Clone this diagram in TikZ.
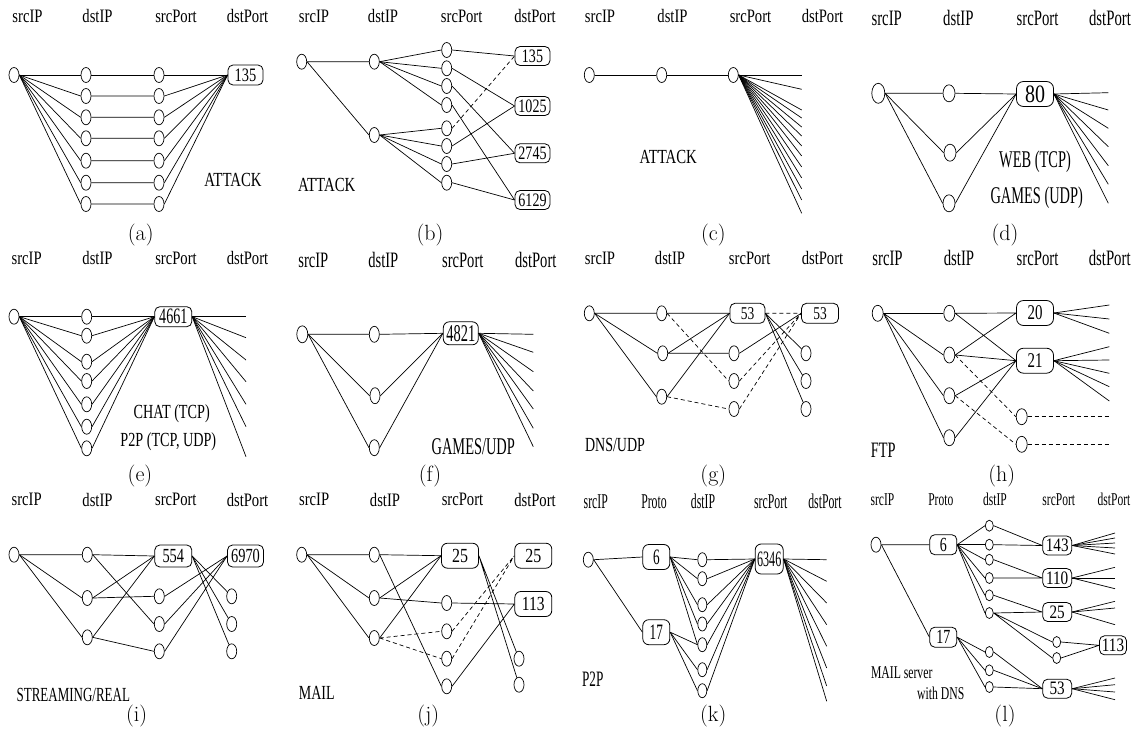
\documentclass[tikz,border=0pt]{standalone}
\usepackage{fontspec}
\usepackage{graphicx}
\newfontfamily\tms{Liberation Serif}
\usetikzlibrary{shapes.geometric}
\newcommand\T[3][0.75]{{\tms\fontsize{#2}{#2}\selectfont\scalebox{#1}[1]{#3}}}
\newcommand\hdr[8]{%
 \node[lab] (#1h1) at (#5,#2) {\T[#4]{#3}{srcIP}};
 \node[lab] (#1h2) at (#6,#2) {\T[#4]{#3}{dstIP}};
 \node[lab] (#1h3) at (#7,#2) {\T[#4]{#3}{srcPort}};
 \node[lab] (#1h4) at (#8,#2) {\T[#4]{#3}{dstPort}};}
\tikzset{
 el/.style={draw, ellipse, minimum width=10pt, minimum height=15pt, inner sep=0pt, line width=0.7pt},
 bx/.style={draw, rounded corners=5pt, minimum width=36pt, minimum height=21pt, inner sep=0pt, line width=0.8pt},
 ln/.style={line width=0.7pt},
 dl/.style={line width=0.7pt, dash pattern=on 4pt off 3pt},
 lab/.style={inner sep=0pt},
 capt/.style={inner sep=0pt, font=\fontsize{22}{22}\selectfont},
}
\begin{document}
\begin{tikzpicture}[x=1pt,y=-1pt]
\useasboundingbox (0,0) rectangle (1135,734);
% ---------------- (a)
\hdr{a}{16}{19}{0.77}{27.5}{97.5}{176}{247.5}
\node[el] (a0) at (14,75) {};
\node[bx, minimum width=35pt, minimum height=20pt] (aB) at (245.5,75) {\T[0.76]{19}{135}};
\foreach \i/\y in {1/75,2/96,3/117.3,4/138.3,5/160.7,6/182.7,7/204}{
  \node[el] (ad\i) at (86,\y) {};
  \node[el] (as\i) at (159,\y) {};
  \draw[ln] (a0.east) -- (ad\i.west) (ad\i.east) -- (as\i.west) (as\i.east) -- (aB.west);
}
\node[lab] (aT) at (233,180) {\T[0.74]{20}{ATTACK}};
\node[capt] (aC) at (140.7,235) {(a)};
% ---------------- (b)
\hdr{b}{16}{19}{0.77}{314}{383}{461.7}{535}
\node[el] (b0) at (301.7,61.7) {};
\node[el] (bd1) at (374.3,61.7) {};
\node[el] (bd2) at (374.3,135) {};
\foreach \i/\y in {1/50,2/68.3,3/86,4/105,5/128.3,6/146,7/164,8/182.7} \node[el] (bs\i) at (446.7,\y) {};
\node[bx, minimum width=35pt, minimum height=19pt] (bB1) at (532.5,56) {\T[0.74]{19}{135}};
\node[bx, minimum width=35pt, minimum height=19pt] (bB2) at (532.5,106) {\T[0.74]{19}{1025}};
\node[bx, minimum width=35pt, minimum height=19pt] (bB3) at (532.5,153.3) {\T[0.74]{19}{2745}};
\node[bx, minimum width=35pt, minimum height=19pt] (bB4) at (532.5,200) {\T[0.74]{19}{6129}};
\draw[ln] (b0.east) -- (bd1.west) (b0.east) -- (bd2.west);
\foreach \i in {1,...,4} \draw[ln] (bd1.east) -- (bs\i.west);
\foreach \i in {5,...,8} \draw[ln] (bd2.east) -- (bs\i.west);
\draw[ln] (bs1.east) -- (bB1.west) (bs2.east) -- (bB2.west) (bs3.east) -- (bB3.west) (bs4.east) -- (bB4.west)
          (bs6.east) -- (bB2.west) (bs7.east) -- (bB3.west) (bs8.east) -- (bB4.west);
\draw[dl] (bs5.east) -- (bB1.west);
\node[lab] (bT) at (326.7,185) {\T[0.74]{20}{ATTACK}};
\node[capt] (bC) at (430,235) {(b)};
% ---------------- (c)
\hdr{c}{16}{19}{0.77}{600}{672.5}{750.5}{822.5}
\node[el] (c0) at (589.3,75) {};
\node[el] (cd) at (661.7,75) {};
\node[el] (cs) at (733.3,75) {};
\draw[ln] (c0.east) -- (cd.west) (cd.east) -- (cs.west);
\foreach \k/\y in {1/75,2/89.3,3/110,4/118,5/127,6/136,7/146,8/156,9/167,10/178,11/189,12/200,13/213.3}{
  \coordinate (ce\k) at (801.7,\y); \draw[ln] (cs.east) -- (ce\k);}
\node[lab] (cT) at (668.3,156.7) {\T[0.74]{20}{ATTACK}};
\node[capt] (cC) at (713.3,235) {(c)};
% ---------------- (d)
\hdr{d}{18}{22}{0.67}{886.7}{958.3}{1037.5}{1110}
\node[el, minimum width=13pt, minimum height=20pt] (d0) at (878.3,93.3) {};
\node[el, minimum width=12pt, minimum height=17pt] (dd1) at (949,93.3) {};
\node[el, minimum width=12pt, minimum height=17pt] (dd2) at (950,152.7) {};
\node[el, minimum width=12pt, minimum height=17pt] (dd3) at (949,203.3) {};
\node[bx, minimum width=37pt, minimum height=25pt, rounded corners=7pt] (dB) at (1035,94) {\T[0.8]{25}{80}};
\foreach \i in {1,2,3} \draw[ln] (d0.east) -- (dd\i.west) (dd\i.east) -- (dB.west);
\foreach \k/\y in {1/92.7,2/110,3/128.3,4/146.7,5/165.7,6/184.3,7/203.3}{
  \coordinate (de\k) at (1108.3,\y); \draw[ln] (dB.east) -- (de\k);}
\node[lab] (dT1) at (1035,161.7) {\T[0.6]{24}{WEB (TCP)}};
\node[lab] (dT2) at (1036.7,197.3) {\T[0.6]{24}{GAMES (UDP)}};
\node[capt] (dC) at (1005,235) {(d)};
% ---------------- (e)
\hdr{e}{258.3}{19}{0.77}{26.7}{97.5}{176}{247.5}
\node[el] (e0) at (14,316.7) {};
\node[bx, minimum width=37pt, minimum height=20pt] (eB) at (173.3,316.7) {\T[0.64]{22}{4661}};
\foreach \i/\y in {1/316.7,2/335.7,3/361.7,4/381,5/404.3,6/426.7,7/448.3}{
  \node[el] (ed\i) at (86.7,\y) {};
  \draw[ln] (e0.east) -- (ed\i.west) (ed\i.east) -- (eB.west);}
\foreach \k/\y in {1/316.7,2/337.7,3/360,4/381.7,5/404.3,6/426.7,7/456.7}{
  \coordinate (ee\k) at (246,\y); \draw[ln] (eB.east) -- (ee\k);}
\node[lab] (eT1) at (171.7,413.3) {\T[0.71]{20}{CHAT (TCP)}};
\node[lab] (eT2) at (168.3,441.7) {\T[0.71]{20}{P2P (TCP, UDP)}};
\node[capt] (eC) at (140,476) {(e)};
% ---------------- (f)
\hdr{f}{260}{22}{0.66}{313.3}{383.3}{462.8}{535.8}
\node[el, minimum width=11pt, minimum height=17pt] (f0) at (302.3,334.3) {};
\node[el, minimum width=10pt, minimum height=16pt] (fd1) at (374.3,334.3) {};
\node[el, minimum width=10pt, minimum height=16pt] (fd2) at (375,395.7) {};
\node[el, minimum width=10pt, minimum height=16pt] (fd3) at (374.3,447.7) {};
\node[bx, minimum width=35pt, minimum height=23pt, rounded corners=6pt] (fB) at (460.8,333.3) {\T[0.6]{24}{4821}};
\foreach \i in {1,2,3} \draw[ln] (f0.east) -- (fd\i.west) (fd\i.east) -- (fB.west);
\foreach \k/\y in {1/334.3,2/352.3,3/371.7,4/391,5/409,6/428.3,7/446.7}{
  \coordinate (fe\k) at (533.3,\y); \draw[ln] (fB.east) -- (fe\k);}
\node[lab] (fT) at (473.3,446.7) {\T[0.6]{24}{GAMES/UDP}};
\node[capt] (fC) at (430,476) {(f)};
% ---------------- (g)
\hdr{g}{258.3}{19}{0.77}{600}{670}{749.7}{822.5}
\node[el] (g0) at (589.3,313.3) {};
\node[el] (gd1) at (661.7,313.3) {};
\node[el] (gd2) at (662.7,353.3) {};
\node[el] (gd3) at (661.7,396.7) {};
\node[bx, minimum width=35pt, minimum height=20pt] (gB1) at (747.5,313.3) {\T[0.75]{18}{53}};
\node[bx, minimum width=37pt, minimum height=20pt] (gB2) at (820,313.3) {\T[0.75]{18}{53}};
\node[el] (gs1) at (734,353.3) {};
\node[el] (gs2) at (734,381) {};
\node[el] (gs3) at (734,409) {};
\node[el] (gt1) at (806,353.3) {};
\node[el] (gt2) at (806,381) {};
\node[el] (gt3) at (806,409) {};
\foreach \i in {1,2,3} \draw[ln] (g0.east) -- (gd\i.west) (gd\i.east) -- (gB1.west) (gB1.east) -- (gt\i);
\draw[ln] (gd2.east) -- (gs1.west) (gs1.east) -- (gB2.west);
\draw[dl] (gd1.east) -- (gs2.west) (gd3.east) -- (gs3.west) (gs2.east) -- (gB2.west) (gs3.east) -- (gB2.west) (gB1.east) -- (gB2.west);
\node[lab] (gT) at (615,445) {\T[0.7]{20}{DNS/UDP}};
\node[capt] (gC) at (713.3,476) {(g)};
% ---------------- (h)
\hdr{h}{258.3}{22}{0.67}{887.5}{959}{1037.5}{1109.7}
\node[el, minimum width=11pt, minimum height=16pt] (h0) at (877.7,313.3) {};
\foreach \i/\y in {1/313.3,2/355,3/395.7,4/437.7} \node[el, minimum width=11pt, minimum height=16pt] (hd\i) at (949.3,\y) {};
\node[bx, minimum width=37pt, minimum height=25pt, rounded corners=7pt] (hB1) at (1035,313) {\T[0.71]{21}{20}};
\node[bx, minimum width=37pt, minimum height=25pt, rounded corners=7pt] (hB2) at (1035,360.7) {\T[0.71]{21}{21}};
\node[el, minimum width=11pt, minimum height=16pt] (hs1) at (1021.7,416.7) {};
\node[el, minimum width=11pt, minimum height=16pt] (hs2) at (1021.7,444.3) {};
\foreach \i in {1,...,4} \draw[ln] (h0.east) -- (hd\i.west);
\draw[ln] (hd1.east) -- (hB1.west) (hd1.east) -- (hB2.west) (hd2.east) -- (hB1.west) (hd2.east) -- (hB2.west)
          (hd3.east) -- (hB2.west) (hd4.east) -- (hB2.west);
\draw[dl] (hd2.east) -- (hs1.west) (hd3.east) -- (hs2.west);
\coordinate (hf1) at (1109,416.7); \coordinate (hf2) at (1109,444.3);
\draw[dl] (hs1.east) -- (hf1) (hs2.east) -- (hf2);
\foreach \k/\y in {1/305,2/319,3/333.3}{\coordinate (he\k) at (1109.3,\y); \draw[ln] (hB1.east) -- (he\k);}
\foreach \k/\y in {1/346.7,2/360,3/373.3,4/386.7,5/401}{\coordinate (hg\k) at (1109.3,\y); \draw[ln] (hB2.east) -- (hg\k);}
\node[lab] (hT) at (883.3,450) {\T[0.65]{22}{FTP}};
\node[capt] (hC) at (1001.7,476) {(h)};
% ---------------- (i)
\hdr{i}{499.7}{19}{0.77}{26.7}{97.5}{175.8}{247.5}
\node[el] (i0) at (14,554.7) {};
\foreach \i/\y in {1/554.7,2/598,3/637.3} \node[el] (id\i) at (87.3,\y) {};
\node[bx, minimum width=37pt, minimum height=22pt] (iB1) at (173.3,556) {\T[0.72]{20}{554}};
\node[bx, minimum width=36pt, minimum height=22pt] (iB2) at (245.5,556) {\T[0.72]{20}{6970}};
\foreach \i/\y in {1/596.3,2/624,3/651.3}{
  \node[el] (is\i) at (159.3,\y) {};
  \node[el] (it\i) at (231.7,\y) {};}
\foreach \i in {1,2,3} \draw[ln] (i0.east) -- (id\i.west) (id\i.east) -- (iB1.west) (is\i.east) -- (iB2.west) (iB1.east) -- (it\i);
\draw[ln] (id1.east) -- (is2.west) (id2.east) -- (is1.west) (id3.east) -- (is3.west);
\node[lab] (iT) at (73.3,694.7) {\T[0.65]{20}{STREAMING/REAL}};
\node[capt] (iC) at (136.7,716) {(i)};
% ---------------- (j)
\hdr{j}{499.7}{19}{0.77}{314.2}{385}{462.5}{535}
\node[el] (j0) at (301.7,554.7) {};
\foreach \i/\y in {1/554.7,2/598,3/638} \node[el] (jd\i) at (374.3,\y) {};
\node[bx, minimum width=37pt, minimum height=25pt, rounded corners=6pt] (jB1) at (460,555.7) {\T[0.8]{20}{25}};
\node[bx, minimum width=37pt, minimum height=25pt, rounded corners=6pt] (jB2) at (533.3,555.7) {\T[0.8]{20}{25}};
\node[bx, minimum width=37pt, minimum height=25pt, rounded corners=6pt] (jB3) at (533.3,604) {\T[0.78]{20}{113}};
\foreach \i/\y in {1/603,2/631.3,3/658.7,4/686.3} \node[el] (js\i) at (446.7,\y) {};
\node[el] (jt1) at (519,658.7) {};
\node[el] (jt2) at (519,684.7) {};
\foreach \i in {1,2,3} \draw[ln] (j0.east) -- (jd\i.west) (jd\i.east) -- (jB1.west);
\draw[ln] (jd1.east) -- (js4.west) (jd2.east) -- (js1.west) (js1.east) -- (jB3.west) (js4.east) -- (jB3.west)
          (jB1.east) -- (jt1) (jB1.east) -- (jt2);
\draw[dl] (jd3.east) -- (js2.west) (jd3.east) -- (js3.west) (js2.east) -- (jB2.west) (js3.east) -- (jB2.west);
\node[lab] (jT) at (316.7,693) {\T[0.7]{20}{MAIL}};
\node[capt] (jC) at (428.3,716) {(j)};
% ---------------- (k)
\node[lab] (kh1) at (595.8,501.3) {\T[0.56]{21}{srcIP}};
\node[lab] (kh2) at (654,501.3) {\T[0.56]{21}{Proto}};
\node[lab] (kh3) at (703,501.3) {\T[0.56]{21}{dstIP}};
\node[lab] (kh4) at (770.8,501.3) {\T[0.56]{21}{srcPort}};
\node[lab] (kh5) at (825,501.3) {\T[0.56]{21}{dstPort}};
\node[el] (k0) at (588.3,559.7) {};
\node[bx, minimum width=27pt, minimum height=25pt, rounded corners=6pt] (kB1) at (656.3,557) {\T[0.6]{22}{6}};
\node[bx, minimum width=27pt, minimum height=25pt, rounded corners=6pt] (kB2) at (656.3,632.2) {\T[0.6]{22}{17}};
\node[bx, minimum width=28pt, minimum height=30pt, rounded corners=6pt] (kB3) at (769.2,559) {\T[0.55]{22}{6346}};
\foreach \i/\y in {1/559.7,2/578.7,3/604.7,4/624,5/644.7,6/669.7,7/690.7}{
  \node[el, minimum width=9pt, minimum height=14pt] (kd\i) at (702.3,\y) {};
  \draw[ln] (kd\i.east) -- (kB3.west);}
\draw[ln] (k0.east) -- (kB1.west) (k0.east) -- (kB2.west);
\foreach \i in {1,...,5} \draw[ln] (kB1.east) -- (kd\i.west);
\foreach \i in {5,6,7} \draw[ln] (kB2.east) -- (kd\i.west);
\foreach \k/\y in {1/559.7,2/581.3,3/603,4/624.7,5/646.3,6/668,7/686,8/701.3}{
  \coordinate (ke\k) at (826.7,\y); \draw[ln] (kB3.east) -- (ke\k);}
\node[lab] (kT) at (592.7,679.7) {\T[0.6]{22}{P2P}};
\node[capt] (kC) at (713.3,716) {(k)};
% ---------------- (l)
\node[lab] (lh1) at (882.5,499.7) {\T[0.64]{18}{srcIP}};
\node[lab] (lh2) at (940.8,499.7) {\T[0.64]{18}{Proto}};
\node[lab] (lh3) at (995,499.7) {\T[0.64]{18}{dstIP}};
\node[lab] (lh4) at (1058.8,499.7) {\T[0.64]{18}{srcPort}};
\node[lab] (lh5) at (1114,499.7) {\T[0.64]{18}{dstPort}};
\node[el] (l0) at (876,544.7) {};
\node[bx, minimum width=27pt, minimum height=20pt] (lB1) at (943.3,544.7) {\T[0.7]{20}{6}};
\node[bx, minimum width=27pt, minimum height=20pt] (lB2) at (943.3,637.2) {\T[0.7]{20}{17}};
\foreach \i/\y in {1/525.7,2/544.7,3/559.7,4/578,5/595.3,6/613,7/652,8/670.3,9/687}
  \node[el, minimum width=8pt, minimum height=11pt] (ld\i) at (989.3,\y) {};
\node[bx, minimum width=29pt, minimum height=19pt] (lB3) at (1057.2,545.5) {\T[0.8]{19}{143}};
\node[bx, minimum width=29pt, minimum height=19pt] (lB4) at (1057.2,578) {\T[0.8]{19}{110}};
\node[bx, minimum width=29pt, minimum height=19pt] (lB5) at (1057.2,612) {\T[0.8]{19}{25}};
\node[bx, minimum width=29pt, minimum height=19pt] (lB6) at (1057.2,688.7) {\T[0.8]{19}{53}};
\node[bx, minimum width=27pt, minimum height=19pt] (lB7) at (1113,645.3) {\T[0.8]{19}{113}};
\node[el, minimum width=8pt, minimum height=11pt] (ls1) at (1056.7,642) {};
\node[el, minimum width=8pt, minimum height=11pt] (ls2) at (1056.7,658) {};
\draw[ln] (l0.east) -- (lB1.west) (l0.east) -- (lB2.west);
\foreach \i in {1,...,6} \draw[ln] (lB1.east) -- (ld\i.west);
\foreach \i in {7,8,9} \draw[ln] (lB2.east) -- (ld\i.west) (ld\i.east) -- (lB6.west);
\draw[ln] (ld1.east) -- (lB3.west) (ld2.east) -- (lB3.west) (ld3.east) -- (lB4.west) (ld4.east) -- (lB4.west)
          (ld5.east) -- (lB5.west) (ld6.east) -- (lB5.west) (ld6.east) -- (ls1.west) (ld6.east) -- (ls2.west)
          (ls1.east) -- (lB7.west) (ls2.east) -- (lB7.west);
\foreach \k/\y in {1/533,2/538,3/543,4/548,5/554}{\coordinate (le\k) at (1115,\y); \draw[ln] (lB3.east) -- (le\k);}
\foreach \k/\y in {1/567.3,2/578,3/588.7}{\coordinate (lf\k) at (1115,\y); \draw[ln] (lB4.east) -- (lf\k);}
\foreach \k/\y in {1/601.3,2/608,3/624.7}{\coordinate (lg\k) at (1115,\y); \draw[ln] (lB5.east) -- (lg\k);}
\foreach \k/\y in {1/678,2/684.7,3/692,4/699.7}{\coordinate (lk\k) at (1115,\y); \draw[ln] (lB6.east) -- (lk\k);}
\node[lab] (lT1) at (901.7,673) {\T[0.65]{18}{MAIL server}};
\node[lab] (lT2) at (940.7,693) {\T[0.65]{18}{with DNS}};
\node[capt] (lC) at (1005,716) {(l)};
\end{tikzpicture}
\end{document}
